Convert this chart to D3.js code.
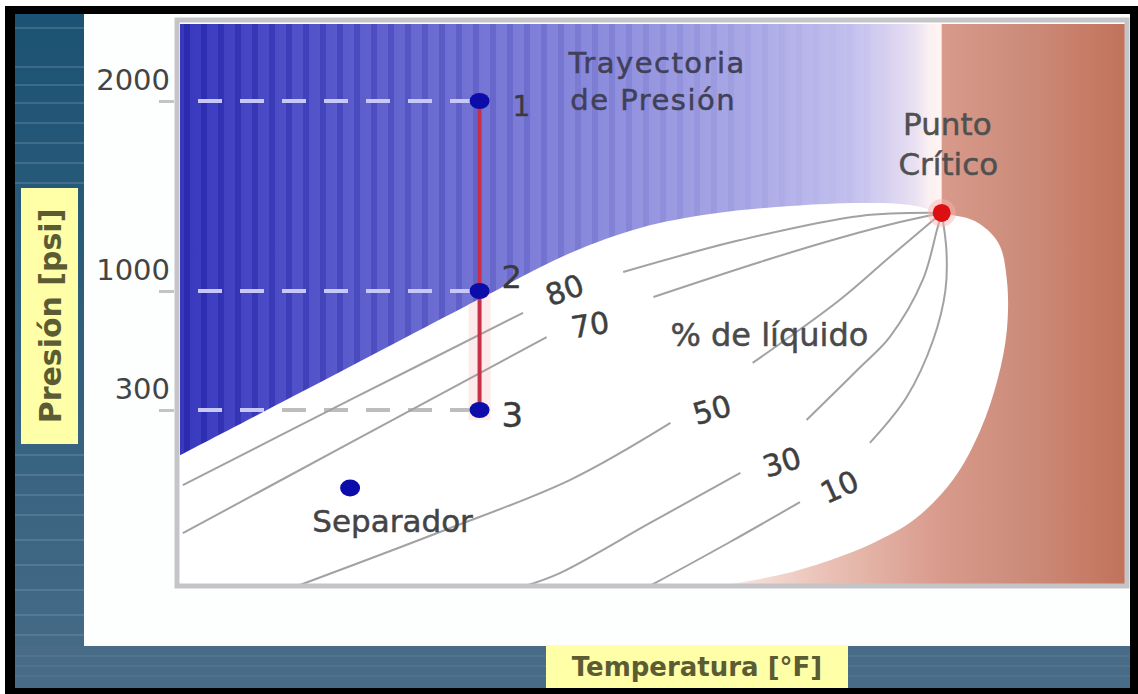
<!DOCTYPE html>
<html><head><meta charset="utf-8">
<script src="https://cdn.jsdelivr.net/npm/d3@7"></script>
<style>html,body{margin:0;padding:0;background:#fff;overflow:hidden}</style>
</head><body><svg id="c" width="1138" height="694"></svg>
<script>
// ---------------- data (T in relative temperature units 0-100, P in psi) ----------------
const yTicks = [300, 1000, 2000];
const yTickLabels = ["300", "1000", "2000"];
const trajectoryT = 31.7;
const trajectoryP = [2000, 1000, 300];
const trajectoryLabels = ["1", "2", "3"];
const separador = [18.0, 167];
const criticalPoint = [80.6, 1411];
const bubbleCurve = [[0,223],[15.9,494],[31.5,947],[41.3,1200],[48.7,1332],[56.1,1405],[64.6,1447],[72.0,1463],[77.2,1453],[80.6,1411]];
const dewCurve = [[80.6,1411],[84.1,1368],[86.6,1253],[87.5,1058],[87.5,771],[86.5,476],[84.7,266],[81.8,181],[77.6,112],[73.3,73],[68.8,44],[63.5,19],[57.1,0]];
const qualityValues = ["80", "70", "50", "30", "10"];
const qualityLower = [
  [[0.3,172],[18.0,359],[36.3,871]],
  [[0.3,90],[18.0,244],[38.8,729]],
  [[12.4,0],[27.5,92],[41.3,181],[51.9,278]],
  [[36.5,0],[40.2,22],[49.7,107],[59.3,193]],
  [[49.7,0],[58.2,75],[65.6,143]]
];
const qualityUpper = [
  [[46.9,1100],[59.3,1268],[72.0,1395],[80.6,1411]],
  [[50.1,965],[61.4,1153],[69.8,1279],[76.2,1363],[80.6,1411]],
  [[60.6,577],[69.8,947],[75.1,1179],[80.6,1411]],
  [[66.3,283],[72.0,553],[75.1,729],[78.6,1058],[80.1,1321],[80.6,1411]],
  [[73.0,244],[76.9,377],[79.7,712],[81.0,1005],[81.1,1216],[80.6,1411]]
];
const qualityLabelPos = [[40.7,1005],[43.4,800],[56.3,300],[63.7,211],[69.8,169]];
const annotationTexts = ["Trayectoria", "de Presión", "Punto", "Crítico", "% de líquido", "Separador"];
const annotationPos = [[41.1,2145],[41.3,1953],[81.2,1821],[81.3,1610],[51.9,676],[14.0,92]];
const yTitle = "Presión [psi]";
const xTitle = "Temperatura [°F]";

// ---------------- drawing ----------------
const svg = d3.select("#c");
const x = d3.scaleLinear().domain([0, 100]).range([180, 1125]);
const y = d3.scaleLinear().domain([0, 300, 1000, 2000, 2400]).range([586, 410, 291, 101, 24]);
const defs = svg.append("defs");
const FONT = "DejaVu Sans, Verdana, sans-serif";

function hgrad(id, x1, x2, stops) {
  const g = defs.append("linearGradient").attr("id", id).attr("gradientUnits", "userSpaceOnUse")
    .attr("x1", x1).attr("x2", x2).attr("y1", 0).attr("y2", 0);
  stops.forEach(s => g.append("stop").attr("offset", s[0]).attr("stop-color", s[1]));
}
const vg = defs.append("linearGradient").attr("id", "teal").attr("x1", 0).attr("x2", 0).attr("y1", 0).attr("y2", 1);
vg.append("stop").attr("offset", 0).attr("stop-color", "#1c5273");
vg.append("stop").attr("offset", 1).attr("stop-color", "#446a86");

const xc = x(criticalPoint[0]);
hgrad("blue", x(0), xc, [[0,"#3838be"],[0.15,"#5050c8"],[0.35,"#6e6ed3"],[0.55,"#8c8cdd"],[0.75,"#abaae6"],[0.88,"#c3c0ee"],[0.93,"#d8d2f0"],[0.965,"#e9e1f2"],[0.985,"#fcf1f2"],[1,"#fff4f0"]]);
hgrad("brown", xc, x(100), [[0,"#d89a8b"],[0.5,"#cb8a78"],[1,"#c2725a"]]);
hgrad("pinklow", x(55), xc, [[0,"#fcf3f1"],[0.5,"#ebc3b8"],[1,"#d89a8b"]]);

// page frame
svg.append("rect").attr("width", 1138).attr("height", 694).attr("fill", "#fff");
svg.append("rect").attr("x", 5).attr("y", 6).attr("width", 1133).attr("height", 688).attr("fill", "#000");
svg.append("rect").attr("x", 15).attr("y", 14).attr("width", 1115).attr("height", 674).attr("fill", "#fdfefe");
svg.append("rect").attr("x", 15).attr("y", 14).attr("width", 69).attr("height", 632).attr("fill", "url(#teal)");
svg.append("g").selectAll("line").data([28, 67, 85, 103, 123, 143, 163, 183, 455, 475, 495, 515, 540, 565, 590, 615, 635]).join("line")
  .attr("x1", 15).attr("x2", 84).attr("y1", d => d).attr("y2", d => d)
  .attr("stroke", "#7fa3bb").attr("stroke-width", 1.5).attr("opacity", 0.4);
svg.append("rect").attr("x", 15).attr("y", 646).attr("width", 1115).attr("height", 42).attr("fill", "#486b87");
svg.append("g").selectAll("line").data([656, 666, 676]).join("line")
  .attr("x1", 15).attr("x2", 1130).attr("y1", d => d).attr("y2", d => d)
  .attr("stroke", "#8fb0c6").attr("stroke-width", 1).attr("opacity", 0.25);

// plot backgrounds
const plotTop = y(2400), plotBottom = y(0);
svg.append("rect").attr("x", x(0)).attr("y", plotTop).attr("width", xc - x(0)).attr("height", plotBottom - plotTop).attr("fill", "url(#blue)");
svg.append("g").selectAll("rect").data(d3.range(x(0) + 4, xc - 20, 17)).join("rect")
  .attr("x", d => d).attr("y", plotTop).attr("width", 6).attr("height", plotBottom - plotTop)
  .attr("fill", "#16169a").attr("opacity", d => 0.38 * Math.pow(1 - (d - x(0)) / (xc - x(0)), 1.6));
svg.append("rect").attr("x", x(55)).attr("y", y(600)).attr("width", xc - x(55) + 2).attr("height", plotBottom - y(600)).attr("fill", "url(#pinklow)");
svg.append("rect").attr("x", xc).attr("y", plotTop).attr("width", x(100) - xc).attr("height", plotBottom - plotTop).attr("fill", "url(#brown)");

// dashed pressure guides (blue-region colour)
const dashX0 = x(0), dashX1 = x(trajectoryT) - 8;
svg.append("g").selectAll("line").data(trajectoryP).join("line")
  .attr("x1", dashX0).attr("x2", dashX1).attr("y1", d => y(d)).attr("y2", d => y(d))
  .attr("stroke", "#c8c8f6").attr("stroke-width", 4).attr("stroke-dasharray", "24 18").attr("stroke-dashoffset", 24);

// two-phase envelope
const env = bubbleCurve.concat(dewCurve.slice(1)).map(d => [x(d[0]), y(d[1])]);
const envPath = d3.line().curve(d3.curveCatmullRom.alpha(0.5))(env) + `L${x(0)},${y(0)}Z`;
defs.append("clipPath").attr("id", "envClip").append("path").attr("d", envPath);
svg.append("path").attr("d", envPath).attr("fill", "#fff");

// trajectory halo inside envelope
svg.append("line").attr("clip-path", "url(#envClip)")
  .attr("x1", x(trajectoryT)).attr("x2", x(trajectoryT)).attr("y1", y(2000)).attr("y2", y(300) + 10)
  .attr("stroke", "#fdeaea").attr("stroke-width", 22);

// gray dashes inside envelope
svg.append("g").attr("clip-path", "url(#envClip)").selectAll("line").data(trajectoryP).join("line")
  .attr("x1", dashX0).attr("x2", dashX1).attr("y1", d => y(d)).attr("y2", d => y(d))
  .attr("stroke", "#bdbdbd").attr("stroke-width", 4).attr("stroke-dasharray", "24 18").attr("stroke-dashoffset", 24);

// quality lines
const qline = d3.line().x(d => x(d[0])).y(d => y(d[1])).curve(d3.curveCatmullRom.alpha(0.5));
const qg = svg.append("g").attr("fill", "none").attr("stroke", "#a2a2a2").attr("stroke-width", 2);
qg.selectAll("path.lo").data(qualityLower).join("path").attr("class", "lo").attr("d", qline);
qg.selectAll("path.up").data(qualityUpper).join("path").attr("class", "up").attr("d", qline);

// plot frame
svg.append("rect").attr("x", x(0) - 3).attr("y", plotTop - 4).attr("width", x(100) - x(0) + 5).attr("height", plotBottom - plotTop + 4)
  .attr("fill", "none").attr("stroke", "#c5c5c9").attr("stroke-width", 5);

// y axis
const ax = svg.append("g").attr("transform", `translate(${x(0) - 6},0)`)
  .call(d3.axisLeft(y).tickValues(yTicks).tickFormat((d, i) => yTickLabels[i]).tickSize(15).tickPadding(2));
ax.select(".domain").remove();
ax.selectAll(".tick line").attr("stroke", "#c4c4c4").attr("stroke-width", 3);
ax.selectAll(".tick text").attr("x", -4).attr("dy", null).attr("y", -12)
  .attr("font-family", FONT).attr("font-size", 29).attr("fill", "#444").attr("text-anchor", "end");

// trajectory line
svg.append("line").attr("x1", x(trajectoryT)).attr("x2", x(trajectoryT))
  .attr("y1", y(trajectoryP[0])).attr("y2", y(trajectoryP[2]))
  .attr("stroke", "#c8304a").attr("stroke-width", 4);

// points
svg.append("g").selectAll("ellipse").data(trajectoryP).join("ellipse")
  .attr("cx", x(trajectoryT)).attr("cy", d => y(d)).attr("rx", 10).attr("ry", 8).attr("fill", "#0c0caa");
svg.append("ellipse").attr("cx", x(separador[0])).attr("cy", y(separador[1])).attr("rx", 10).attr("ry", 8.5).attr("fill", "#0c0caa");
svg.append("circle").attr("cx", xc).attr("cy", y(criticalPoint[1])).attr("r", 14).attr("fill", "#ffb0b0").attr("opacity", 0.45);
svg.append("circle").attr("cx", xc).attr("cy", y(criticalPoint[1])).attr("r", 9).attr("fill", "#dc1010");

// point labels
const ptLabelDx = [33, 22, 22], ptLabelDy = [15, -3, 17], ptLabelSize = [28, 32, 34];
svg.append("g").selectAll("text").data(trajectoryLabels).join("text")
  .attr("x", (d, i) => x(trajectoryT) + ptLabelDx[i]).attr("y", (d, i) => y(trajectoryP[i]) + ptLabelDy[i])
  .attr("font-family", FONT).attr("font-size", (d, i) => ptLabelSize[i]).attr("fill", "#3a3a3a")
  .attr("stroke", "#3a3a3a").attr("stroke-width", 0.4).text(d => d);

// quality labels
const qAngle = [-20, -9, -16, -17, -24];
svg.append("g").selectAll("text").data(qualityValues).join("text")
  .attr("transform", (d, i) => `translate(${x(qualityLabelPos[i][0])},${y(qualityLabelPos[i][1])}) rotate(${qAngle[i]})`)
  .attr("text-anchor", "middle").attr("dominant-baseline", "central")
  .attr("font-family", FONT).attr("font-size", 30).attr("fill", "#3f3f3f")
  .attr("stroke", "#3f3f3f").attr("stroke-width", 0.5).text(d => d);

// annotations
const annAnchor = ["start", "start", "middle", "middle", "start", "start"];
const annSize = [29, 29, 31, 31, 32, 31];
const annColor = ["#404058", "#404058", "#505050", "#505050", "#4a4a4a", "#444"];
const annSpacing = [1.5, 1.5, 0, 0, 0, 0];
svg.append("g").selectAll("text").data(annotationTexts).join("text")
  .attr("x", (d, i) => x(annotationPos[i][0])).attr("y", (d, i) => y(annotationPos[i][1]))
  .attr("text-anchor", (d, i) => annAnchor[i]).attr("font-family", FONT)
  .attr("font-size", (d, i) => annSize[i]).attr("letter-spacing", (d, i) => annSpacing[i])
  .attr("fill", (d, i) => annColor[i]).attr("stroke", (d, i) => annColor[i]).attr("stroke-width", 0.5)
  .text(d => d);

// axis titles in yellow boxes
svg.append("rect").attr("x", 21).attr("y", 188).attr("width", 57).attr("height", 256).attr("fill", "#ffffa8");
svg.append("text").attr("transform", "translate(50,316) rotate(-90)").attr("text-anchor", "middle")
  .attr("dominant-baseline", "central").attr("font-family", FONT).attr("font-weight", "bold")
  .attr("font-size", 30).attr("fill", "#5c5c34").text(yTitle);
svg.append("rect").attr("x", 546).attr("y", 645).attr("width", 302).attr("height", 43).attr("fill", "#ffffa8");
svg.append("text").attr("x", 697).attr("y", 667).attr("text-anchor", "middle")
  .attr("dominant-baseline", "central").attr("font-family", FONT).attr("font-weight", "bold")
  .attr("font-size", 26).attr("fill", "#5c5c34").text(xTitle);
</script></body></html>
